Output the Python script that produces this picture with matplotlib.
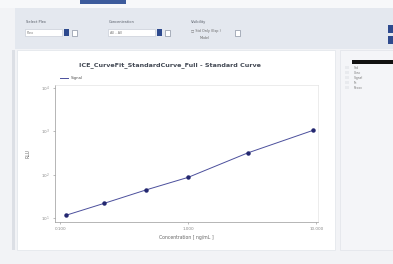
import matplotlib
matplotlib.use("Agg")
import matplotlib.pyplot as plt
from matplotlib.patches import Rectangle
from matplotlib.lines import Line2D
from matplotlib.ticker import FixedLocator, FixedFormatter, NullLocator

# ---- data ----
concentration = [0.11, 0.22, 0.47, 1.0, 2.9, 9.4]
signal = [11.5, 21.8, 44.7, 87, 316, 1050]
x_ticks = [0.1, 1.0, 10.0]
x_tick_labels = ["0.100", "1.000", "10.000"]
y_ticks = [10, 100, 1000, 10000]
y_tick_labels = [r"$10^1$", r"$10^2$", r"$10^3$", r"$10^4$"]
title = "ICE_CurveFit_StandardCurve_Full - Standard Curve"
series_name = "Signal"
x_label = "Concentration [ ng/mL ]"
y_label = "RLU"
toolbar_labels = ["Select Plex", "Concentration", "Visibility"]
toolbar_values = ["Plex", "All - All", ""]
table_rows = ["Std", "Conc", "Signal", "Fit", "Recov"]

W, H = 393, 264
fig = plt.figure(figsize=(W / 100, H / 100), dpi=100)
fig.patch.set_facecolor("#f2f3f6")


def rect(x, y, w, h, color, ec="none", lw=0.5, z=-5):
    fig.patches.append(Rectangle((x / W, 1 - (y + h) / H), w / W, h / H,
                                 transform=fig.transFigure, facecolor=color,
                                 edgecolor=ec, linewidth=lw, zorder=z))


def ftext(x, y, s, **kw):
    fig.text(x / W, 1 - y / H, s, **kw)


# top tab + toolbar
rect(0, 0, W, 8, "#f7f8fa")
rect(80, 0, 46, 4, "#3d5b9c")
rect(15, 8, W - 15, 41, "#e4e8ef")
# group controls
groups = [(25, 62), (108, 155)]
for (x0, x1), lab, val in zip(groups, toolbar_labels[:2], toolbar_values[:2]):
    ftext(x0 + 1, 22, lab, fontsize=2.6, color="#555b66", va="center")
    rect(x0, 29, x1 - x0, 7, "white", ec="#c9ced8", z=-4)
    ftext(x0 + 2, 32.5, val, fontsize=2.4, color="#777", va="center")
    rect(x1 + 2, 29, 5, 7, "#2e4a8e", z=-4)
    rect(x1 + 10, 29.5, 5, 6, "white", ec="#8b93a3", z=-4)
ftext(191, 22, toolbar_labels[2], fontsize=2.6, color="#555b66", va="center")
ftext(191, 31, "\u25a1 Std Only (Exp.)", fontsize=2.4, color="#666", va="center")
ftext(200, 38, "Model", fontsize=2.4, color="#666", va="center")
rect(235, 29.5, 5, 6, "white", ec="#8b93a3", z=-4)
rect(388, 25, 5, 8, "#2e4a8e", z=-4)
rect(388, 36, 5, 8, "#2e4a8e", z=-4)

# left strip, chart panel, right panel
rect(12, 50, 3, 200, "#dcdfe5")
rect(17, 50, 318, 200, "white", ec="#e1e4ea")
rect(340, 50, 53, 200, "#f4f5f8", ec="#e1e4ea")
rect(352, 60, 41, 4, "#111111", z=-4)
for i, r in enumerate(table_rows):
    ftext(354, 68 + i * 5, r, fontsize=2.2, color="#777", va="center")
    rect(345, 66 + i * 5, 4, 3, "#e8eaee", z=-4)

# ---- chart ----
ax = fig.add_axes([55 / W, 1 - 222 / H, 263 / W, 137 / H])
ax.set_zorder(2)
ax.set_facecolor("white")
ax.plot(concentration, signal, color="#4b4f9c", lw=0.7, marker="o",
        markersize=2.2, markerfacecolor="#232770", markeredgecolor="#232770",
        zorder=3)
ax.set_xscale("log")
ax.set_yscale("log")
ax.set_xlim(0.091, 10.3)
ax.set_ylim(8.1, 11700)
ax.xaxis.set_major_locator(FixedLocator(x_ticks))
ax.xaxis.set_major_formatter(FixedFormatter(x_tick_labels))
ax.xaxis.set_minor_locator(NullLocator())
ax.yaxis.set_major_locator(FixedLocator(y_ticks))
ax.yaxis.set_major_formatter(FixedFormatter(y_tick_labels))
ax.yaxis.set_minor_locator(NullLocator())
ax.tick_params(labelsize=3, colors="#888888", length=1.5, width=0.4, pad=2)
for side in ["top", "right"]:
    ax.spines[side].set_color("#dddddd")
    ax.spines[side].set_linewidth(0.4)
for side in ["left", "bottom"]:
    ax.spines[side].set_color("#999999")
    ax.spines[side].set_linewidth(0.5)
ax.set_xlabel(x_label, fontsize=3.3, color="#666666", labelpad=3)
ax.set_ylabel(y_label, fontsize=3.3, color="#666666", labelpad=8)
ftext(170, 65, title, fontsize=4.6, fontweight="bold", color="#444a55",
      ha="center", va="center")
handle = Line2D([], [], color="#4b4f9c", lw=0.7)
leg = ax.legend([handle], [series_name], loc="lower left",
                bbox_to_anchor=(0.0, 1.0), frameon=False, fontsize=2.8,
                handlelength=2.0, borderpad=0.1, borderaxespad=1.2)
for t in leg.get_texts():
    t.set_color("#555555")

fig.savefig("out.png", dpi=100, facecolor=fig.get_facecolor())
